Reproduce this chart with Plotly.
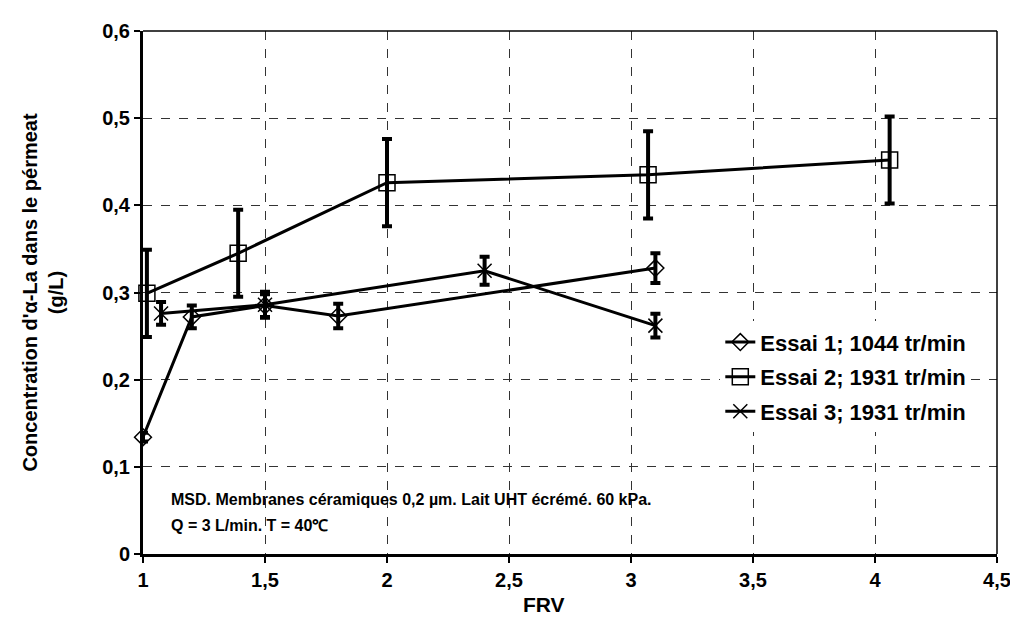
import plotly.graph_objects as go

# data
x1 = [1.0, 1.2, 1.5, 1.8, 3.1]
y1 = [0.134, 0.272, 0.285, 0.273, 0.328]
e1 = [0.005, 0.013, 0.013, 0.014, 0.017]

x2 = [1.016, 1.39, 2.0, 3.07, 4.06]
y2 = [0.299, 0.345, 0.426, 0.435, 0.452]
e2 = [0.05, 0.05, 0.05, 0.05, 0.05]

x3 = [1.074, 1.5, 2.4, 3.1]
y3 = [0.276, 0.286, 0.325, 0.262]
e3 = [0.013, 0.015, 0.016, 0.0135]

names = ["Essai 1; 1044 tr/min", "Essai 2; 1931 tr/min", "Essai 3; 1931 tr/min"]

x_ticks = [1, 1.5, 2, 2.5, 3, 3.5, 4, 4.5]
x_labels = ["1", "1,5", "2", "2,5", "3", "3,5", "4", "4,5"]
y_ticks = [0, 0.1, 0.2, 0.3, 0.4, 0.5, 0.6]
y_labels = ["0", "0,1", "0,2", "0,3", "0,4", "0,5", "0,6"]

FONT = "Liberation Sans, Arial, sans-serif"

def bold(size):
    return dict(family=FONT, size=size, color="black", weight="bold")

fig = go.Figure()

series = [
    (x1, y1, e1, "diamond-open", 13),
    (x2, y2, e2, "square-open", 16),
    (x3, y3, e3, "x-thin-open", 14),
]
for i, ((xs, ys, es, sym, sz), name) in enumerate(zip(series, names)):
    fig.add_trace(go.Scatter(
        x=xs, y=ys, name=name, mode="lines+markers", legendgroup=str(i),
        line=dict(color="black", width=3),
        marker=dict(symbol=sym, size=sz, color="black", line=dict(width=1.5, color="black")),
        error_y=dict(type="data", array=es, visible=True, color="black", thickness=4, width=5),
        cliponaxis=False,
    ))

# frame: thin top and right borders
fig.add_shape(type="line", xref="paper", yref="paper", x0=0, y0=1, x1=1, y1=1,
              line=dict(color="black", width=1.5))
fig.add_shape(type="line", xref="paper", yref="paper", x0=1, y0=0, x1=1, y1=1,
              line=dict(color="black", width=1.5))

fig.add_annotation(
    xref="paper", yref="paper", x=0.031, y=0.105, xanchor="left", yanchor="middle",
    showarrow=False, text="MSD. Membranes céramiques 0,2 µm. Lait UHT écrémé. 60 kPa.",
    font=bold(16),
)
fig.add_annotation(
    xref="paper", yref="paper", x=0.031, y=0.054, xanchor="left", yanchor="middle",
    showarrow=False, text="Q = 3 L/min. T = 40℃",
    font=bold(16),
)
fig.add_annotation(
    xref="paper", yref="paper", x=0.47, y=-0.096, xanchor="center", yanchor="middle",
    showarrow=False, text="FRV", font=bold(21),
)

fig.update_xaxes(
    range=[1, 4.5], tickvals=x_ticks, ticktext=x_labels,
    showgrid=True, gridcolor="#333", gridwidth=1, griddash="dash",
    showline=True, linecolor="black", linewidth=3,
    ticks="outside", ticklen=6, tickwidth=2, tickcolor="black",
    tickfont=bold(20), zeroline=False,
)
fig.update_yaxes(
    range=[0, 0.6], tickvals=y_ticks, ticktext=y_labels,
    showgrid=True, gridcolor="#333", gridwidth=1, griddash="dash",
    showline=True, linecolor="black", linewidth=3,
    ticks="outside", ticklen=6, tickwidth=2, tickcolor="black",
    tickfont=bold(20), zeroline=False,
    title=dict(text="Concentration d'α-La dans le pérmeat<br>(g/L)",
               font=bold(20), standoff=34),
)

fig.update_layout(
    width=1018, height=621,
    # page body adds ~8px offset; margins compensate so the plot sits at 143..997 x 22..554
    margin=dict(l=135, r=29, t=14, b=75),
    plot_bgcolor="white", paper_bgcolor="white",
    showlegend=True,
    legend=dict(x=0.676, y=0.445, xanchor="left", yanchor="top", bgcolor="white",
                font=bold(22), tracegroupgap=3, itemwidth=30),
)

fig.write_html("out.html")
